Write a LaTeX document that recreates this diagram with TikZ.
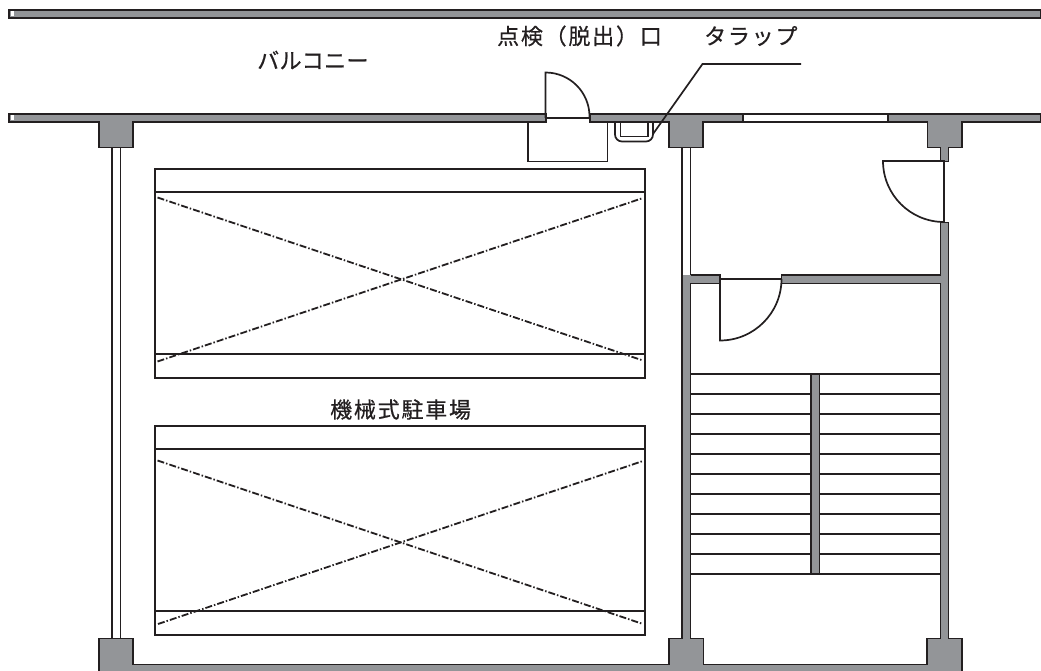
\documentclass[tikz,border=0pt]{standalone}
\usepackage{fontspec}
\newfontfamily\jpa[LetterSpace=8,FakeBold=0.6]{Noto Sans CJK JP}
\newfontfamily\jpb[LetterSpace=2,FakeBold=0.6]{Noto Sans CJK JP}
\definecolor{ink}{HTML}{231F20}
\definecolor{wallgray}{HTML}{939598}
\tikzset{
  wall/.style={fill=wallgray,draw=ink,line width=1.9pt,line join=miter},
  wallfill/.style={fill=wallgray,draw=none},
  outline/.style={draw=ink,line width=1.9pt,line cap=butt},
  thin/.style={draw=ink,line width=1.7pt},
  car/.style={draw=ink,line width=2pt,fill=white},
  diag/.style={draw=ink,line width=1.8pt,dash pattern=on 7pt off 2pt on 1.5pt off 2pt},
  label/.style={inner sep=0pt,font=\jpa\fontsize{22}{26}\selectfont,text=ink}
}
\begin{document}
\begin{tikzpicture}[x=1pt,y=-1pt]
\useasboundingbox (0,0) rectangle (1041,671);
% balcony parapet
\path[wall] (9,10) rectangle (1040.5,18);
\fill[white] (10.5,11.5) rectangle (14,16.5);
% main wall, with columns
\path[wall] (9,114) -- (546,114) -- (546,122) -- (133,122) -- (133,147.5) -- (99,147.5) -- (99,122) -- (9,122) -- cycle;
\fill[white] (10.5,115.5) rectangle (14,120.5);
\path[wall] (590,114) -- (743,114) -- (743,122) -- (703,122) -- (703,147.5) -- (669,147.5) -- (669,122) -- (590,122) -- cycle;
\path[wall] (888,114) -- (1040.5,114) -- (1040.5,122) -- (962,122) -- (962,147.5) -- (948.5,147.5) -- (948.5,161.5) -- (940.5,161.5) -- (940.5,147.5) -- (927.5,147.5) -- (927.5,122) -- (888,122) -- cycle;
% window
\draw[outline] (743,114) -- (888,114) (743,122) -- (888,122);
% thin walls
\draw[thin] (112,147.5) -- (112,638.5) (120.5,147.5) -- (120.5,638.5);
\draw[thin] (682,147.5) -- (682,275) (690.5,147.5) -- (690.5,275);
% interior walls, stairs
\path[wallfill] (682,275) -- (720,275) -- (720,283.5) -- (690.5,283.5) -- (690.5,640) -- (682,640) -- cycle;
\path[wallfill] (781.5,275) -- (940.5,275) -- (940.5,222.5) -- (948.5,222.5) -- (948.5,640) -- (940.5,640) -- (940.5,283.5) -- (781.5,283.5) -- cycle;
% bottom wall with columns
\path[wallfill] (99,671) -- (99,638.5) -- (133,638.5) -- (133,664.5) -- (669,664.5) -- (669,638.5) -- (703.5,638.5) -- (703.5,664.5) -- (927,664.5) -- (927,638.5) -- (962,638.5) -- (962,671) -- cycle;
\draw[outline] (99,671) -- (99,638.5) -- (133,638.5) -- (133,664.5) -- (669,664.5) -- (669,638.5) -- (682,638.5) -- (682,275) (690.5,275) -- (720,275) -- (720,283.5) -- (690.5,283.5) -- (690.5,638.5) -- (703.5,638.5) -- (703.5,664.5) -- (927,664.5) -- (927,638.5) -- (940.5,638.5) -- (940.5,283.5) -- (781.5,283.5) -- (781.5,275) -- (940.5,275) -- (940.5,222.5) -- (948.5,222.5) -- (948.5,638.5) -- (962,638.5) -- (962,671);
% stairs
\foreach \yy in {374,394,414,434,454,474,494,514,534,554,574}
  \draw[thin] (690.5,\yy) -- (940.5,\yy);
\path[wall,line width=1.6pt] (811,374) rectangle (819.5,574);
% parking
\path[car] (155,169) rectangle (645,378);
\draw[car] (155,192) -- (645,192) (155,354) -- (645,354);
\path[car] (155,426) rectangle (645,634.5);
\draw[car] (155,449) -- (645,449) (155,611) -- (645,611);
\draw[diag] (157.5,361.5) -- (643,198);
\draw[diag] (157.5,197.5) -- (643,360.5);
\draw[diag] (158,624) -- (643,461);
\draw[diag] (157.5,460.5) -- (643,624);
% inspection hatch door
\draw[ink,line width=2.2pt] (546,118) -- (590,118);
\draw[thin] (545.5,118) -- (545.5,72.5) arc[start angle=-90,end angle=0,radius=44] -- (589.5,118);
\draw[outline,line width=1.6pt] (528,122) -- (528,161.5) -- (607.5,161.5) -- (607.5,122);
% trap
\draw[thin,rounded corners=7pt] (615,122) -- (615,141.5) -- (653,141.5) -- (653,122);
\draw[thin] (620.5,122) -- (620.5,136.5) -- (648,136.5) -- (648,122);
% leader
\coordinate (leadA) at (653,134);
\coordinate (leadB) at (702.5,64);
\coordinate (leadC) at (801,64);
\draw[thin] (leadA) -- (leadB) -- (leadC);
% doors
\draw[thin] (944,161) -- (883,161) arc[start angle=180,end angle=90,radius=61] -- cycle;
\draw[thin] (781.5,279) -- (720,279) -- (720,340.5) arc[start angle=90,end angle=0,radius=61.5];
% labels
\node[label,anchor=west,font=\jpb\fontsize{22}{26}\selectfont] (balcony) at (257,60) {バルコニー};
\node[label,anchor=west] (hatch) at (497,36) {点検（脱出）口};
\node[label,anchor=west] (trap) at (704,36) {タラップ};
\node[label,anchor=west] (parking) at (330,409.5) {機械式駐車場};
\end{tikzpicture}
\end{document}
